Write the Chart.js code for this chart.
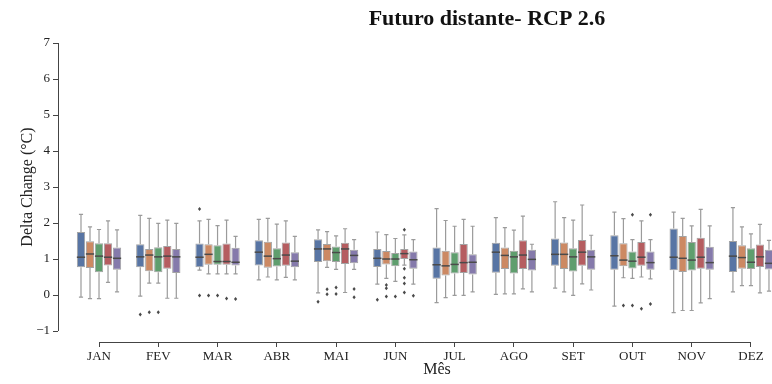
<!DOCTYPE html>
<html>
<head>
<meta charset="utf-8">
<script src="https://cdn.jsdelivr.net/npm/chart.js@4.4.1/dist/chart.umd.min.js"></script>
<style>
  html, body { margin: 0; padding: 0; background: #fff; overflow: hidden; }
</style>
</head>
<body>
<canvas id="chart" width="772" height="384"></canvas>
<script>
const months = ['JAN', 'FEV', 'MAR', 'ABR', 'MAI', 'JUN', 'JUL', 'AGO', 'SET', 'OUT', 'NOV', 'DEZ'];
const yTicks = [-1, 0, 1, 2, 3, 4, 5, 6, 7];
const seriesNames = ['Modelo 1', 'Modelo 2', 'Modelo 3', 'Modelo 4', 'Modelo 5'];

// each month: [whisker low, q1, median, q3, whisker high]
const boxBlue = [
  [-0.06, 0.77, 1.05, 1.75, 2.24], [-0.03, 0.77, 1.06, 1.41, 2.21], [0.69, 0.77, 1.05, 1.43, 2.06],
  [0.42, 0.82, 1.19, 1.52, 2.10], [0.06, 0.92, 1.28, 1.55, 1.81], [0.30, 0.78, 1.02, 1.28, 1.75],
  [-0.21, 0.45, 0.84, 1.32, 2.40], [0.02, 0.62, 1.19, 1.45, 2.15], [0.19, 0.81, 1.13, 1.57, 2.59],
  [-0.31, 0.70, 1.09, 1.66, 2.30], [-0.49, 0.69, 1.05, 1.85, 2.30], [0.09, 0.64, 1.08, 1.50, 2.43]
];
const boxOrange = [
  [-0.10, 0.75, 1.14, 1.49, 1.89], [0.33, 0.66, 1.11, 1.28, 2.13], [0.59, 0.84, 1.13, 1.41, 2.10],
  [0.50, 0.76, 1.08, 1.48, 2.13], [0.77, 0.94, 1.28, 1.42, 1.76], [0.46, 0.85, 1.00, 1.22, 1.68],
  [-0.07, 0.54, 0.81, 1.23, 2.07], [0.03, 0.72, 1.10, 1.32, 1.87], [0.09, 0.72, 1.13, 1.46, 2.15],
  [0.48, 0.80, 0.97, 1.44, 2.12], [-0.43, 0.64, 1.02, 1.64, 2.13], [0.26, 0.73, 1.04, 1.38, 1.89]
];
const boxGreen = [
  [-0.10, 0.63, 1.08, 1.44, 1.82], [0.33, 0.63, 1.06, 1.33, 1.99], [0.59, 0.84, 0.93, 1.38, 1.93],
  [0.42, 0.79, 1.01, 1.30, 1.97], [0.71, 0.92, 1.18, 1.35, 1.64], [0.38, 0.80, 1.00, 1.17, 1.57],
  [-0.01, 0.60, 0.85, 1.19, 1.91], [0.03, 0.60, 1.06, 1.23, 1.80], [-0.01, 0.65, 1.06, 1.30, 2.08],
  [0.46, 0.74, 0.94, 1.21, 1.54], [-0.43, 0.68, 0.97, 1.47, 1.92], [0.26, 0.72, 0.91, 1.30, 1.70]
];
const boxRed = [
  [0.35, 0.82, 1.05, 1.44, 2.06], [-0.09, 0.73, 1.08, 1.36, 2.08], [0.59, 0.84, 0.93, 1.43, 2.08],
  [0.49, 0.81, 1.11, 1.46, 2.06], [0.07, 0.86, 1.28, 1.45, 1.84], [0.83, 1.00, 1.15, 1.28, 1.67],
  [-0.01, 0.61, 0.90, 1.42, 2.10], [0.17, 0.72, 1.11, 1.52, 2.19], [0.31, 0.81, 1.19, 1.53, 2.50],
  [0.50, 0.81, 1.05, 1.47, 2.06], [-0.22, 0.73, 1.05, 1.59, 2.38], [0.06, 0.78, 1.06, 1.40, 1.96]
];
const boxPurple = [
  [0.09, 0.70, 1.02, 1.32, 1.81], [-0.09, 0.61, 1.06, 1.28, 1.99], [0.59, 0.82, 0.91, 1.31, 1.63],
  [0.42, 0.77, 0.94, 1.19, 1.63], [0.71, 0.88, 1.10, 1.26, 1.54], [0.30, 0.73, 0.98, 1.21, 1.54],
  [0.09, 0.57, 0.91, 1.13, 1.91], [0.09, 0.68, 0.99, 1.26, 1.41], [0.14, 0.70, 1.06, 1.26, 1.66],
  [0.45, 0.70, 0.90, 1.21, 1.54], [-0.10, 0.70, 0.90, 1.34, 1.92], [0.11, 0.71, 0.88, 1.26, 1.52]
];

// outliers: [month index, value]
const outBlue = [[1, -0.54], [2, 2.39], [2, -0.01], [4, -0.19], [5, -0.13]];
const outOrange = [[1, -0.48], [2, -0.01], [4, 0.16], [4, 0.02], [5, 0.28], [5, 0.19], [5, -0.04], [9, -0.29]];
const outGreen = [[1, -0.48], [2, -0.01], [4, 0.21], [4, 0.03], [5, -0.04], [9, 2.23], [9, -0.29]];
const outRed = [[2, -0.10], [5, 1.81], [5, 0.73], [5, 0.48], [5, 0.32], [5, 0.07], [9, -0.38]];
const outPurple = [[2, -0.11], [4, 0.17], [4, -0.06], [5, -0.02], [9, 2.23], [9, -0.25]];

const boxes = [boxBlue, boxOrange, boxGreen, boxRed, boxPurple];
const outliers = [outBlue, outOrange, outGreen, outRed, outPurple];
const colors = ['#5875a4', '#cc8963', '#5f9e6e', '#b55d60', '#857aab'];

const serif = "'Liberation Serif', 'DejaVu Serif', serif";

const datasets = boxes.map((box, s) => ({
  label: seriesNames[s],
  data: box.map((b, i) => ({ x: i, y: [b[1], b[3]] })),
  stats: box,
  outliers: outliers[s],
  backgroundColor: colors[s],
  borderColor: '#a3a3a3',
  borderWidth: 1,
  borderSkipped: false
}));

const boxExtras = {
  id: 'boxExtras',
  afterDatasetsDraw(chart) {
    const { ctx, chartArea, scales: { y } } = chart;
    ctx.save();
    ctx.beginPath();
    ctx.rect(chartArea.left, chartArea.top, chartArea.right - chartArea.left, chartArea.bottom - chartArea.top);
    ctx.clip();
    chart.data.datasets.forEach((ds, i) => {
      const meta = chart.getDatasetMeta(i);
      meta.data.forEach((bar, j) => {
        const [lo, q1, med, q3, hi] = ds.stats[j];
        const x = bar.x, half = bar.width / 2;
        ctx.strokeStyle = '#9b9b9b';
        ctx.lineWidth = 1.2;
        ctx.beginPath();
        ctx.moveTo(x, y.getPixelForValue(q3)); ctx.lineTo(x, y.getPixelForValue(hi));
        ctx.moveTo(x, y.getPixelForValue(q1)); ctx.lineTo(x, y.getPixelForValue(lo));
        ctx.moveTo(x - half / 2, y.getPixelForValue(hi)); ctx.lineTo(x + half / 2, y.getPixelForValue(hi));
        ctx.moveTo(x - half / 2, y.getPixelForValue(lo)); ctx.lineTo(x + half / 2, y.getPixelForValue(lo));
        ctx.stroke();
        ctx.strokeStyle = '#4a4a4a';
        ctx.lineWidth = 1.5;
        ctx.beginPath();
        ctx.moveTo(x - half, y.getPixelForValue(med)); ctx.lineTo(x + half, y.getPixelForValue(med));
        ctx.stroke();
      });
      ctx.fillStyle = '#4a4a4a';
      ds.outliers.forEach(([j, v]) => {
        const bar = meta.data[j];
        const px = bar.x, py = y.getPixelForValue(v), r = 2;
        ctx.beginPath();
        ctx.moveTo(px, py - r); ctx.lineTo(px + r * 0.8, py);
        ctx.lineTo(px, py + r); ctx.lineTo(px - r * 0.8, py);
        ctx.closePath();
        ctx.fill();
      });
    });
    ctx.restore();
  },
  afterDraw(chart) {
    const { ctx, chartArea, scales: { x, y } } = chart;
    ctx.save();
    ctx.strokeStyle = '#444';
    ctx.lineWidth = 1;
    ctx.beginPath();
    const sx = Math.round(chartArea.left) + 0.5;
    ctx.moveTo(sx, y.getPixelForValue(yTicks[yTicks.length - 1]));
    ctx.lineTo(sx, y.getPixelForValue(yTicks[0]));
    const sy = Math.round(chartArea.bottom) + 0.5;
    ctx.moveTo(x.getPixelForValue(0), sy);
    ctx.lineTo(x.getPixelForValue(months.length - 1), sy);
    ctx.stroke();

    ctx.fillStyle = '#111';
    ctx.textAlign = 'center';
    ctx.textBaseline = 'middle';
    ctx.font = 'bold 22px ' + serif;
    ctx.fillText('Futuro distante- RCP 2.6', 487, 19);

    ctx.fillStyle = '#222';
    ctx.font = '16px ' + serif;
    ctx.fillText('Mês', 437, 370);

    ctx.translate(28, 187);
    ctx.rotate(-Math.PI / 2);
    ctx.fillText('Delta Change (°C)', 0, 0);
    ctx.restore();
  }
};

new Chart(document.getElementById('chart'), {
  type: 'bar',
  data: { datasets },
  plugins: [boxExtras],
  options: {
    responsive: false,
    animation: false,
    devicePixelRatio: 1,
    categoryPercentage: 0.76,
    barPercentage: 0.92,
    layout: { padding: { top: 43, left: 0, right: 0, bottom: 0 } },
    plugins: {
      legend: { display: false },
      tooltip: { enabled: false }
    },
    scales: {
      x: {
        type: 'linear',
        min: -0.692,
        max: 11.355,
        offset: false,
        afterFit(scale) { scale.height = 42; },
        afterBuildTicks(scale) { scale.ticks = months.map((m, i) => ({ value: i })); },
        ticks: {
          autoSkip: false,
          maxRotation: 0,
          padding: 2,
          color: '#222',
          font: { family: serif, size: 13 },
          callback: (v) => months[v]
        },
        grid: { offset: false, drawOnChartArea: false, drawTicks: true, tickLength: 5, color: '#444' },
        border: { display: false }
      },
      y: {
        min: -1.305,
        max: 7,
        afterFit(scale) { scale.width = 58; },
        afterBuildTicks(scale) { scale.ticks = yTicks.map(v => ({ value: v })); },
        ticks: {
          padding: 3,
          color: '#222',
          font: { family: serif, size: 13 },
          callback: (v) => v < 0 ? '\u2212' + Math.abs(v) : String(v)
        },
        grid: { drawOnChartArea: false, drawTicks: true, tickLength: 5, color: '#444' },
        border: { display: false }
      }
    }
  }
});
</script>
</body>
</html>
